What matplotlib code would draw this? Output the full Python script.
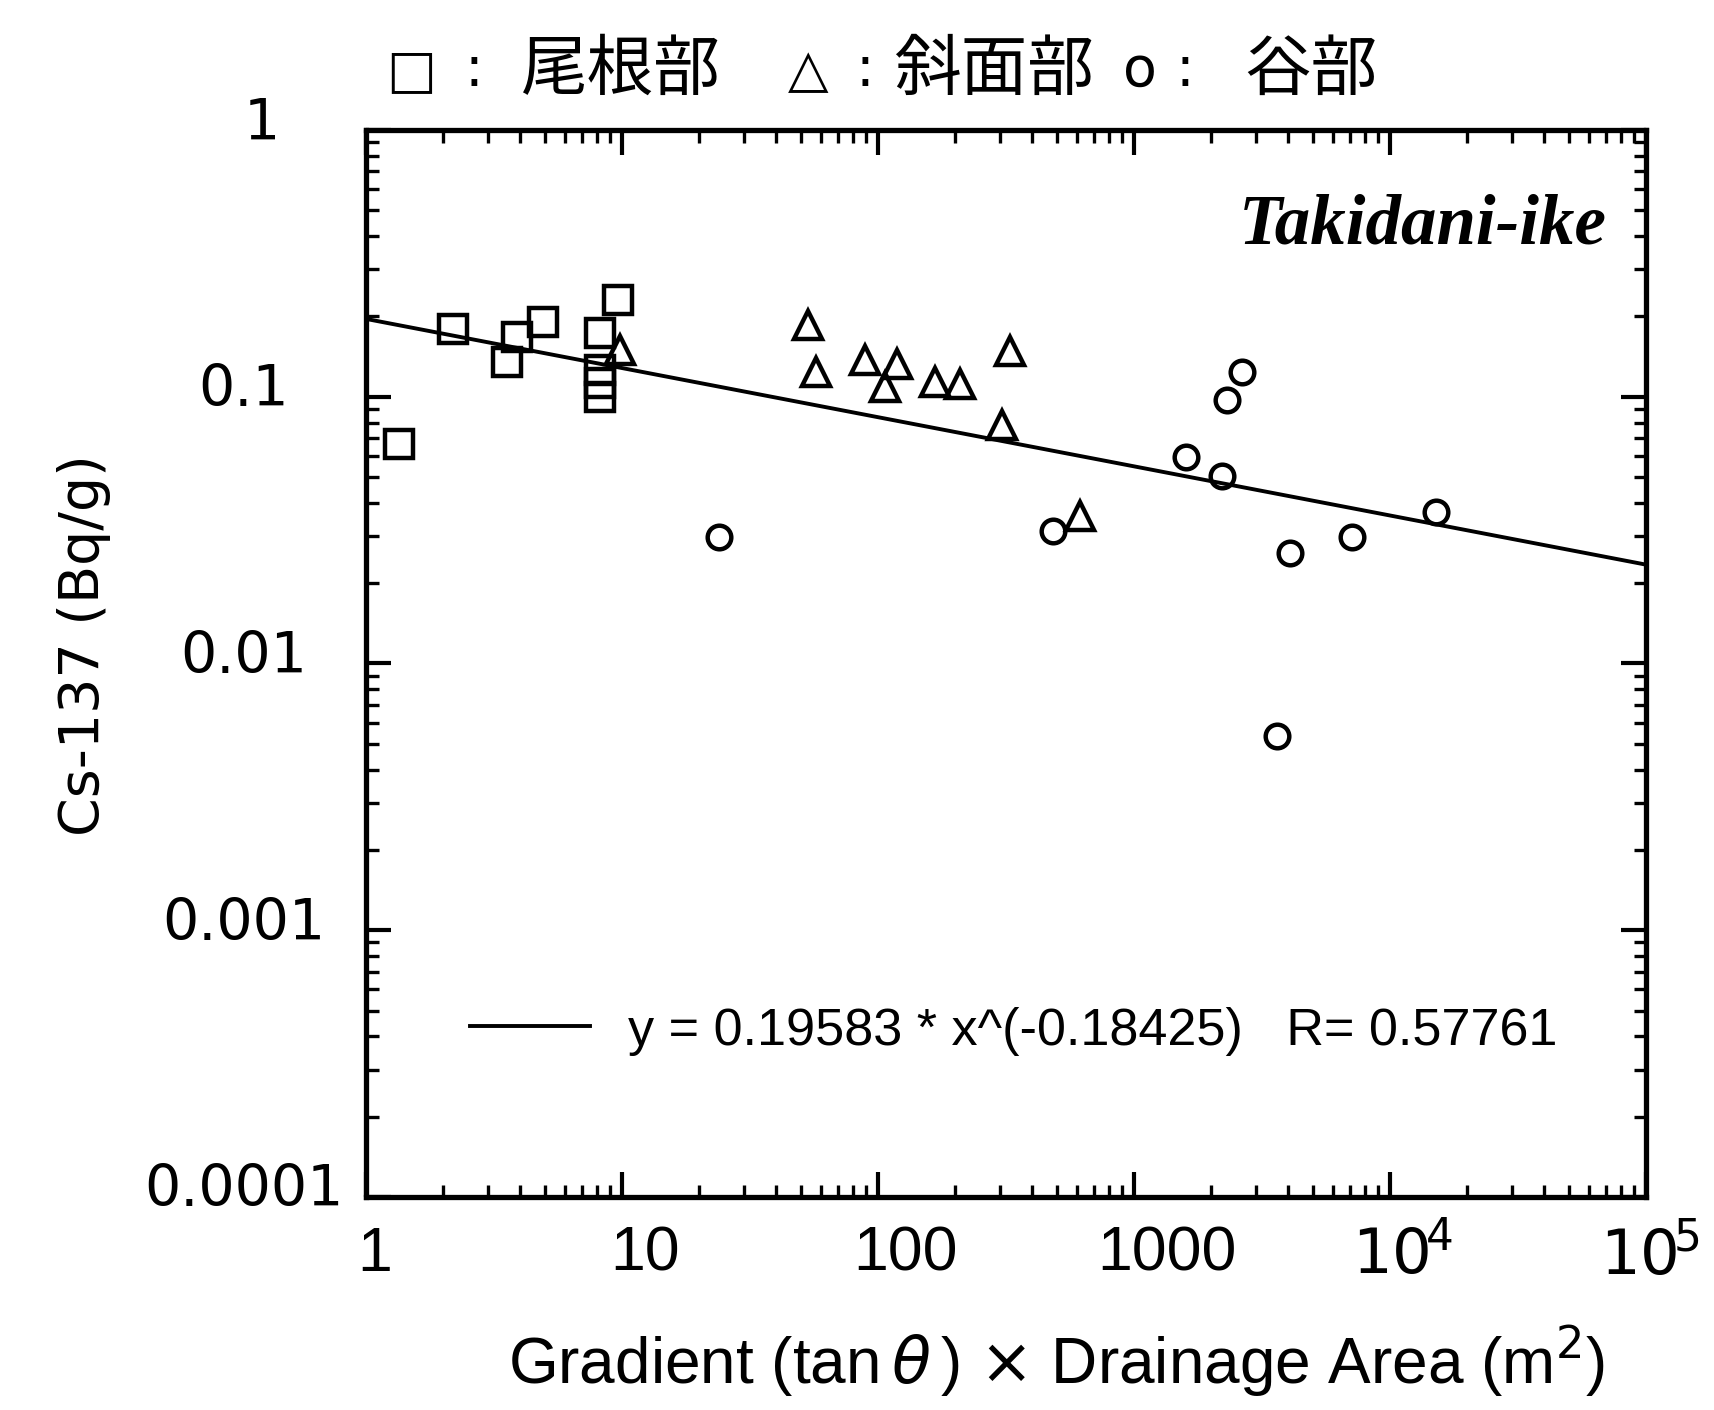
import numpy as np
import matplotlib
matplotlib.use("Agg")
import matplotlib.pyplot as plt
import matplotlib.transforms as mtransforms
from matplotlib.ticker import LogLocator, NullFormatter

# ridge (square), slope (triangle), valley (circle) samples
ridge_x = [1.35, 2.19, 3.55, 3.89, 4.91, 8.2, 9.65, 8.2, 8.2, 8.2]
ridge_y = [0.0665, 0.1795, 0.135, 0.1675, 0.1906, 0.173, 0.2306, 0.126, 0.1126, 0.0998]

slope_x = [9.8, 53.3, 57.3, 89, 118.6, 106.5, 167, 209, 328, 305, 615]
slope_y = [0.1497, 0.186, 0.124, 0.1374, 0.1327, 0.1088, 0.1136, 0.1116, 0.1484, 0.0783, 0.0357]

valley_x = [23.9, 483, 1596, 2206, 2308, 2642, 4066, 3620, 7112, 15130]
valley_y = [0.0298, 0.0314, 0.0595, 0.0505, 0.0972, 0.1239, 0.0260, 0.00535, 0.0298, 0.0370]

# power-law fit reported on the chart
fit_a = 0.19583
fit_b = -0.18425
fit_r = 0.57761
fit_x = np.array([1.0, 1e5])

x_ticks = [1, 10, 100, 1000, 1e4, 1e5]
x_ticklabels = ["1", "10", "100", "1000", r"$10^{\!4}$", r"$10^{\!5}$"]
y_ticks = [1e-4, 1e-3, 1e-2, 1e-1, 1]
y_ticklabels = ["0.0001", "0.001", "0.01", "0.1", "1"]

# header key: symbol / name pieces
key_parts = ["□", ":", "尾根部", "△", ":", "斜面部", "o", ":", "谷部"]

fig = plt.figure(figsize=(17.14, 14.10), dpi=100)
W, H = 1714, 1410
ax = fig.add_axes([366 / W, 1 - 1197 / H, (1646 - 366) / W, (1197 - 130) / H])

ax.set_xscale("log")
ax.set_yscale("log")
ax.set_xlim(1, 1e5)
ax.set_ylim(1e-4, 1)

fit_y = fit_a * fit_x ** fit_b
ax.plot(fit_x, fit_y, color="black", lw=2.8,
        label=f"y = {fit_a} * x^({fit_b})   R= {fit_r}")

mk = dict(linestyle="none", markerfacecolor="none", markeredgecolor="black",
          markeredgewidth=3.2)
ax.plot(ridge_x, ridge_y, marker="s", markersize=20, **mk)
ax.plot(slope_x, slope_y, marker="^", markersize=20, **mk)
ax.plot(valley_x, valley_y, marker="o", markersize=17, **mk)

for s in ax.spines.values():
    s.set_linewidth(3.8)

ax.xaxis.set_minor_locator(LogLocator(base=10, subs=np.arange(2, 10), numticks=20))
ax.yaxis.set_minor_locator(LogLocator(base=10, subs=np.arange(2, 10), numticks=20))
ax.xaxis.set_minor_formatter(NullFormatter())
ax.yaxis.set_minor_formatter(NullFormatter())
ax.set_xticks(x_ticks)
ax.set_xticklabels(x_ticklabels, fontfamily="Liberation Sans", fontsize=45)
ax.set_yticks(y_ticks)
ax.set_yticklabels(y_ticklabels, fontfamily="DejaVu Sans", fontsize=41)
ax.tick_params(which="major", direction="in", length=18, width=3,
               top=True, right=True)
ax.tick_params(which="minor", direction="in", length=9, width=2.4,
               top=True, right=True)
ax.tick_params(axis="x", which="major", pad=20)
ax.tick_params(axis="y", which="major", pad=88)

# labels sit a little right / above their ticks in the original
x_shift = [0.09, 0.23, 0.27, 0.33, 0.12, 0.04]
for lab, sh in zip(ax.get_xticklabels(), x_shift):
    lab.set_transform(lab.get_transform()
                      + mtransforms.ScaledTranslation(sh, 0, fig.dpi_scale_trans))
y_shift = [0.0, 0.0, 0.0, 0.0, 0.18]
for lab, sh in zip(ax.get_yticklabels(), y_shift):
    lab.set_ha("center")
    lab.set_transform(lab.get_transform()
                      + mtransforms.ScaledTranslation(sh, 0.12, fig.dpi_scale_trans))

ax.set_xlabel(r"Gradient (tan$\,\theta\,$) $\times$ Drainage Area (m$^2$)",
              fontfamily="Liberation Sans", fontsize=46)
ax.xaxis.set_label_coords((1057 - 366) / 1280, (1197 - 1361) / 1067)
ax.xaxis.label.set_va("center")
ax.set_ylabel("Cs-137 (Bq/g)", fontfamily="DejaVu Sans", fontsize=40)
ax.yaxis.set_label_coords((84 - 366) / 1280, (1197 - 645) / 1067)
ax.yaxis.label.set_va("center")

ax.text(0.9695, 0.91, "Takidani-ike", transform=ax.transAxes, ha="right",
        va="center", fontfamily="Liberation Serif", fontweight="bold",
        fontstyle="italic", fontsize=51)

leg = ax.legend(loc="center left", bbox_to_anchor=((470 - 366) / 1280, (1197 - 1031) / 1067),
                frameon=False, borderpad=0, borderaxespad=0, handlelength=2.3,
                handletextpad=0.74, prop={"family": "Liberation Sans", "size": 37.5})

# header key, laid out piece by piece (centres in pixels)
key_x = [411, 474, 621, 808, 865, 994, 1140, 1185, 1311]
key_size = [38, 40, 48, 38, 40, 48, 40, 40, 48]
for txt, px, fs in zip(key_parts, key_x, key_size):
    fig.text(px / W, 1 - 71 / H, txt, ha="center", va="center", fontsize=fs,
             family=["DejaVu Sans", "Noto Sans CJK JP"] if txt in "□△o:" else
             ["Noto Sans CJK JP", "DejaVu Sans"],
             fontweight="bold" if txt in "□△" else "normal")

fig.savefig("out.png", dpi=100, facecolor="white")
